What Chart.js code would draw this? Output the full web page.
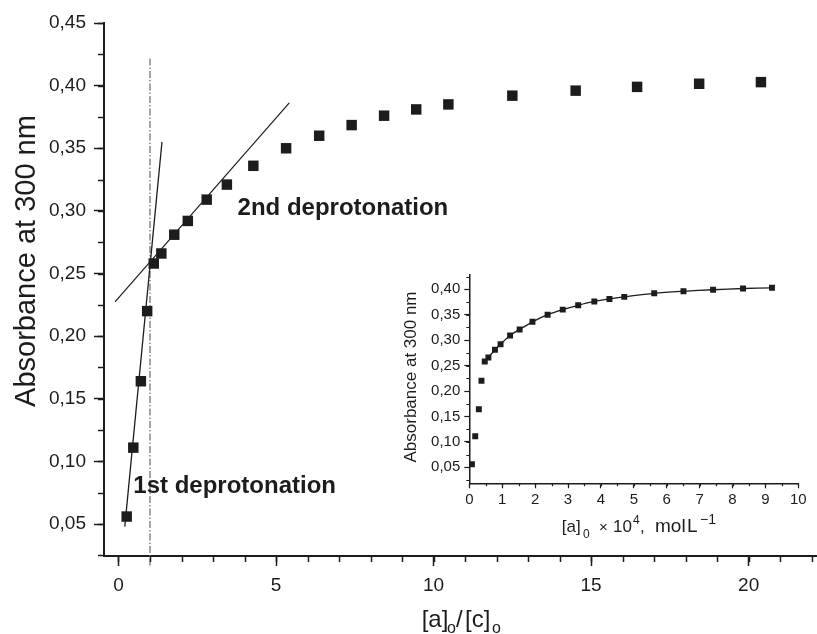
<!DOCTYPE html>
<html>
<head>
<meta charset="utf-8">
<script src="https://cdn.jsdelivr.net/npm/chart.js@4/dist/chart.umd.min.js"></script>
<style>
    html, body { margin: 0; padding: 0; background: #fff; }
    #wrap { position: relative; width: 817px; height: 634px; }
    #main { position: absolute; left: 0; top: 0; }
    #inset { position: absolute; left: 395px; top: 265px; }
</style>
</head>
<body>
<div id="wrap">
    <canvas id="main" width="817" height="634"></canvas>
    <canvas id="inset" width="422" height="280"></canvas>
</div>
<script>
// main plot: absorbance vs [a]o/[c]o
const ratio = [0.26, 0.47, 0.71, 0.91, 1.12, 1.36, 1.77, 2.20, 2.80, 3.44, 4.28, 5.32, 6.37, 7.40, 8.43, 9.45, 10.47, 12.50, 14.51, 16.46, 18.43, 20.39];
const absorb = [0.056, 0.111, 0.164, 0.220, 0.258, 0.266, 0.281, 0.292, 0.309, 0.321, 0.336, 0.350, 0.360, 0.3685, 0.376, 0.381, 0.385, 0.392, 0.396, 0.399, 0.4015, 0.4028];

// inset: same absorbances vs [a]0 x 10^4 mol/L
const conc = [0.08, 0.18, 0.29, 0.37, 0.47, 0.58, 0.78, 0.95, 1.24, 1.53, 1.92, 2.38, 2.84, 3.31, 3.80, 4.26, 4.71, 5.62, 6.51, 7.41, 8.32, 9.20];
const insetFitFrom = 4;

// straight lines drawn by hand on the figure
const steepX = [0.20, 1.38], steepY = [0.048, 0.355];
const shallowX = [-0.11, 5.42], shallowY = [0.2273, 0.3863];
const guideX = [1.0, 1.0], guideY = [0.017, 0.422];

const mainXTicks = [0, 5, 10, 15, 20];
const mainYTicks = [0.05, 0.10, 0.15, 0.20, 0.25, 0.30, 0.35, 0.40, 0.45];
const insetXTicks = [0, 1, 2, 3, 4, 5, 6, 7, 8, 9, 10];
const insetYTicks = [0.05, 0.10, 0.15, 0.20, 0.25, 0.30, 0.35, 0.40];

const INK = '#1c1c1c';
const FONT = "'Liberation Sans', Arial, sans-serif";
Chart.defaults.font.family = FONT;
Chart.defaults.color = INK;

function pts(xs, ys) {
    return xs.map((x, i) => ({x: x, y: ys[i]}));
}

function comma(v) {
    return v.toFixed(2).replace('.', ',');
}

// short unlabelled ticks between the major ones
const minorTicks = {
    id: 'minorTicks',
    afterDraw(chart, args, opts) {
        const {ctx, scales: {x, y}} = chart;
        ctx.save();
        ctx.strokeStyle = INK;
        ctx.lineWidth = opts.width;
        ctx.beginPath();
        for (let k = Math.ceil(x.min / opts.xStep); k * opts.xStep <= x.max + 1e-9; k++) {
            const px = Math.round(x.getPixelForValue(k * opts.xStep)) + 0.5;
            ctx.moveTo(px, x.top);
            ctx.lineTo(px, x.top + opts.len);
        }
        for (let k = Math.ceil(y.min / opts.yStep - 1e-9); k * opts.yStep <= y.max + 1e-9; k++) {
            const py = Math.round(y.getPixelForValue(k * opts.yStep)) + 0.5;
            ctx.moveTo(y.right, py);
            ctx.lineTo(y.right - opts.len, py);
        }
        ctx.stroke();
        ctx.restore();
    }
};

// draws a list of text pieces: {t, x, y, size, bold, rot}
const texts = {
    id: 'texts',
    afterDraw(chart, args, opts) {
        const ctx = chart.ctx;
        const items = opts.items(chart);
        ctx.save();
        ctx.fillStyle = INK;
        items.forEach(it => {
            ctx.save();
            ctx.font = (it.bold ? 'bold ' : '') + it.size + 'px ' + FONT;
            ctx.translate(it.x, it.y);
            if (it.rot) ctx.rotate(it.rot);
            ctx.textAlign = it.align || 'left';
            ctx.textBaseline = it.base || 'alphabetic';
            ctx.fillText(it.t, 0, 0);
            ctx.restore();
        });
        ctx.restore();
    }
};

function axisLook(tickLen, tickW, borderW, fontSize, pad) {
    return {
        grid: {drawOnChartArea: false, drawTicks: true, tickLength: tickLen, tickColor: INK, tickWidth: tickW},
        border: {display: true, color: INK, width: borderW},
        ticks: {font: {size: fontSize}, padding: pad, color: INK, maxRotation: 0, autoSkip: false}
    };
}

function fixWidth(w) {
    return s => { s.width = w; s.paddingTop = 0; s.paddingBottom = 0; };
}

function fixHeight(h) {
    return s => { s.height = h; s.paddingLeft = 0; s.paddingRight = 0; };
}

// ---------- main chart ----------
const mainX = axisLook(10, 1.5, 2, 19, 8);
mainX.type = 'linear';
mainX.min = -0.46;
mainX.max = 22.17;
mainX.afterBuildTicks = s => { s.ticks = mainXTicks.map(v => ({value: v})); };
mainX.afterFit = fixHeight(78);
mainX.ticks.callback = v => String(v);

const mainY = axisLook(10, 1.5, 2, 19, 8);
mainY.type = 'linear';
mainY.min = 0.0245;
mainY.max = 0.45;
mainY.afterBuildTicks = s => { s.ticks = mainYTicks.map(v => ({value: v})); };
mainY.afterFit = fixWidth(104);
mainY.ticks.callback = v => comma(v);

new Chart(document.getElementById('main'), {
    type: 'scatter',
    data: {
        datasets: [
            {
                data: pts(ratio, absorb),
                pointStyle: 'rect', pointRadius: 7.4, pointHoverRadius: 7.4,
                backgroundColor: INK, borderColor: INK, borderWidth: 0
            },
            {
                data: pts(steepX, steepY), showLine: true, pointRadius: 0,
                borderColor: INK, borderWidth: 1.3
            },
            {
                data: pts(shallowX, shallowY), showLine: true, pointRadius: 0,
                borderColor: INK, borderWidth: 1.2
            },
            {
                data: pts(guideX, guideY), showLine: true, pointRadius: 0, clip: false,
                borderColor: '#6a6a6a', borderWidth: 1.2, borderDash: [7, 2, 1.5, 2]
            }
        ]
    },
    options: {
        responsive: false,
        animation: false,
        layout: {autoPadding: false, padding: {top: 23, right: 0, left: 0, bottom: 0}},
        plugins: {
            legend: {display: false},
            tooltip: {enabled: false},
            minorTicks: {xStep: 1, yStep: 0.025, len: 6, width: 1.5},
            texts: {
                items: ch => {
                    const {x, y} = ch.scales;
                    return [
                        {t: 'Absorbance at 300 nm', x: 27, y: 261, size: 29, rot: -Math.PI / 2, align: 'center', base: 'middle'},
                        {t: '2nd deprotonation', x: x.getPixelForValue(3.78), y: y.getPixelForValue(0.2966), size: 24, bold: true},
                        {t: '1st deprotonation', x: x.getPixelForValue(0.47), y: y.getPixelForValue(0.0747), size: 24, bold: true},
                        {t: '[a]', x: 421.7, y: 627, size: 24},
                        {t: 'o', x: 447, y: 633, size: 16},
                        {t: '/', x: 456, y: 627, size: 24},
                        {t: '[c]', x: 465, y: 627, size: 24},
                        {t: 'o', x: 492, y: 633, size: 16}
                    ];
                }
            }
        },
        scales: {x: mainX, y: mainY}
    },
    plugins: [minorTicks, texts]
});

// ---------- inset ----------
const inX = axisLook(5, 1.2, 1.5, 15, 3);
inX.type = 'linear';
inX.min = 0;
inX.max = 10;
inX.afterBuildTicks = s => { s.ticks = insetXTicks.map(v => ({value: v})); };
inX.afterFit = fixHeight(61.7);
inX.ticks.callback = v => String(v);

const inY = axisLook(5, 1.2, 1.5, 15, 4);
inY.type = 'linear';
inY.min = 0.0186;
inY.max = 0.428;
inY.afterBuildTicks = s => { s.ticks = insetYTicks.map(v => ({value: v})); };
inY.afterFit = fixWidth(74.3);
inY.ticks.callback = v => comma(v);

new Chart(document.getElementById('inset'), {
    type: 'scatter',
    data: {
        datasets: [
            {
                data: pts(conc, absorb),
                pointStyle: 'rect', pointRadius: 4.2, pointHoverRadius: 4.2,
                backgroundColor: INK, borderColor: INK, borderWidth: 0
            },
            {
                data: pts(conc, absorb).slice(insetFitFrom), showLine: true, pointRadius: 0,
                borderColor: INK, borderWidth: 1.3, tension: 0.3
            }
        ]
    },
    options: {
        responsive: false,
        animation: false,
        layout: {autoPadding: false, padding: {top: 10, right: 18.7, left: 0, bottom: 0}},
        plugins: {
            legend: {display: false},
            tooltip: {enabled: false},
            minorTicks: {xStep: 0.5, yStep: 0.025, len: 3, width: 1.2},
            texts: {
                items: () => {
                    const bx = -395, by = -265;
                    return [
                        {t: 'Absorbance at 300 nm', x: 411.7 + bx, y: 377 + by, size: 17, rot: -Math.PI / 2, align: 'center', base: 'middle'},
                        {t: '[a]', x: 561.7 + bx, y: 531.5 + by, size: 17},
                        {t: '0', x: 583 + bx, y: 538 + by, size: 12},
                        {t: '\u00d7', x: 599 + bx, y: 531.5 + by, size: 15},
                        {t: '10', x: 613 + bx, y: 531.5 + by, size: 17},
                        {t: '4', x: 633 + bx, y: 524 + by, size: 12},
                        {t: ',', x: 640 + bx, y: 531.5 + by, size: 17},
                        {t: 'mol', x: 655 + bx, y: 531.5 + by, size: 19},
                        {t: 'L', x: 687 + bx, y: 531.5 + by, size: 19},
                        {t: '\u22121', x: 700 + bx, y: 524 + by, size: 14}
                    ];
                }
            }
        },
        scales: {x: inX, y: inY}
    },
    plugins: [minorTicks, texts]
});
</script>
</body>
</html>
